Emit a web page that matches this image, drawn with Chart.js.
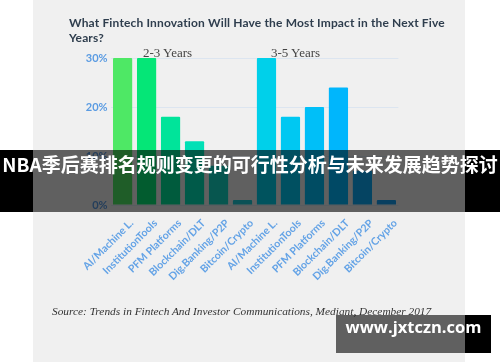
<!DOCTYPE html>
<html>
<head>
<meta charset="utf-8">
<script src="https://cdn.jsdelivr.net/npm/chart.js@4.4.1/dist/chart.umd.min.js"></script>
<style>
  body { margin: 0; width: 500px; height: 362px; background: #fff; overflow: hidden; position: relative; font-family: Lato, sans-serif; }
  #panel { position: absolute; left: 33px; top: 0; width: 432px; height: 362px; background: #f0f0f0; }
  #wrap { position: absolute; left: 0; top: 0; width: 500px; height: 362px; }
  .abs { position: absolute; white-space: nowrap; }
  #title { left: 69px; top: 15px; font: bold 12px Lato, sans-serif; color: #2f3e4e; line-height: 15px; letter-spacing: 0.15px; }
  .grp { top: 45px; font: 13px "Liberation Serif", serif; color: #444; }
  #source { left: 52px; top: 305px; font: italic 11.35px "Liberation Serif", serif; color: #333; }
  .blk { position: absolute; background: #000; }
  .dim { position: absolute; background: rgba(0,0,0,0.6); }
  #banner { left: 0; top: 150px; width: 500px; height: 62px; line-height: 62px; text-align: center; color: #fff; font: bold 19px "Noto Sans CJK SC", sans-serif; }
  #wm { left: 336px; top: 315px; width: 155px; height: 38px; line-height: 38px; text-align: center; color: #fff; font: bold 16.5px "Open Sans", sans-serif; }
</style>
</head>
<body>
<div id="panel"></div>
<div id="wrap"><canvas id="grafico" width="500" height="362"></canvas></div>
<div class="abs" id="title">What Fintech Innovation Will Have the Most Impact in the Next Five<br>Years?</div>
<div class="abs grp" style="left:143px">2-3 Years</div>
<div class="abs grp" style="left:271px">3-5 Years</div>
<div class="abs" id="source">Source: Trends in Fintech And Investor Communications, Mediant, December 2017</div>

<!-- banda superpuesta -->
<div class="blk" style="left:0;top:150px;width:33px;height:62px"></div>
<div class="dim" style="left:33px;top:150px;width:432px;height:62px"></div>
<div class="blk" style="left:465px;top:150px;width:35px;height:62px"></div>
<div class="abs" id="banner">NBA季后赛排名规则变更的可行性分析与未来发展趋势探讨</div>

<!-- marca de agua -->
<div class="dim" style="left:336px;top:315px;width:129px;height:38px"></div>
<div class="blk" style="left:465px;top:315px;width:26px;height:38px"></div>
<div class="abs" id="wm">www.jxtczn.com</div>

<script>
// categorias (dos grupos: 2-3 años y 3-5 años)
const categorias = [
  'AI/Machine L.', 'InstitutionTools', 'PFM Platforms', 'Blockchain/DLT', 'Dig.Banking/P2P', 'Bitcoin/Crypto',
  'AI/Machine L.', 'InstitutionTools', 'PFM Platforms', 'Blockchain/DLT', 'Dig.Banking/P2P', 'Bitcoin/Crypto'
];
const valores = [30, 30, 18, 13, 8, 1, 30, 18, 20, 24, 7, 1];
const colores = [
  '#4ee865', '#05e677', '#00e49a', '#00e0b6', '#12d8c6', '#1ccbd8',
  '#00d0ea', '#00c8f2', '#00bff8', '#00b6fc', '#0eaaf6', '#169ef0'
];
const ticksY = [0, 10, 20, 30];

const ctx = document.getElementById('grafico').getContext('2d');

new Chart(ctx, {
  type: 'bar',
  data: {
    labels: categorias,
    datasets: [{
      data: valores,
      backgroundColor: colores,
      borderRadius: 1,
      borderSkipped: 'bottom',
      barPercentage: 0.8,
      categoryPercentage: 1
    }]
  },
  options: {
    responsive: false,
    animation: false,
    layout: { padding: { left: 0, right: 101.6, top: 58, bottom: 0 } },
    plugins: { legend: { display: false }, tooltip: { enabled: false } },
    scales: {
      x: {
        grid: { display: false },
        border: { display: false },
        afterFit: s => { s.height = 157; },
        ticks: {
          autoSkip: false,
          minRotation: 45,
          maxRotation: 45,
          padding: 4,
          labelOffset: 9,
          color: '#64a3e6',
          font: { family: 'Lato', size: 10.5, weight: 'bold' }
        }
      },
      y: {
        min: 0,
        max: 30,
        afterFit: s => { s.width = 110.6; },
        afterBuildTicks: s => { s.ticks = ticksY.map(v => ({ value: v })); },
        border: { display: false },
        grid: { color: '#dce5f0', drawTicks: false, lineWidth: 1 },
        ticks: {
          padding: 3,
          color: '#5a9be2',
          font: { family: 'Lato', size: 11, weight: 'bold' },
          callback: v => v + '%'
        }
      }
    }
  }
});
</script>
</body>
</html>
